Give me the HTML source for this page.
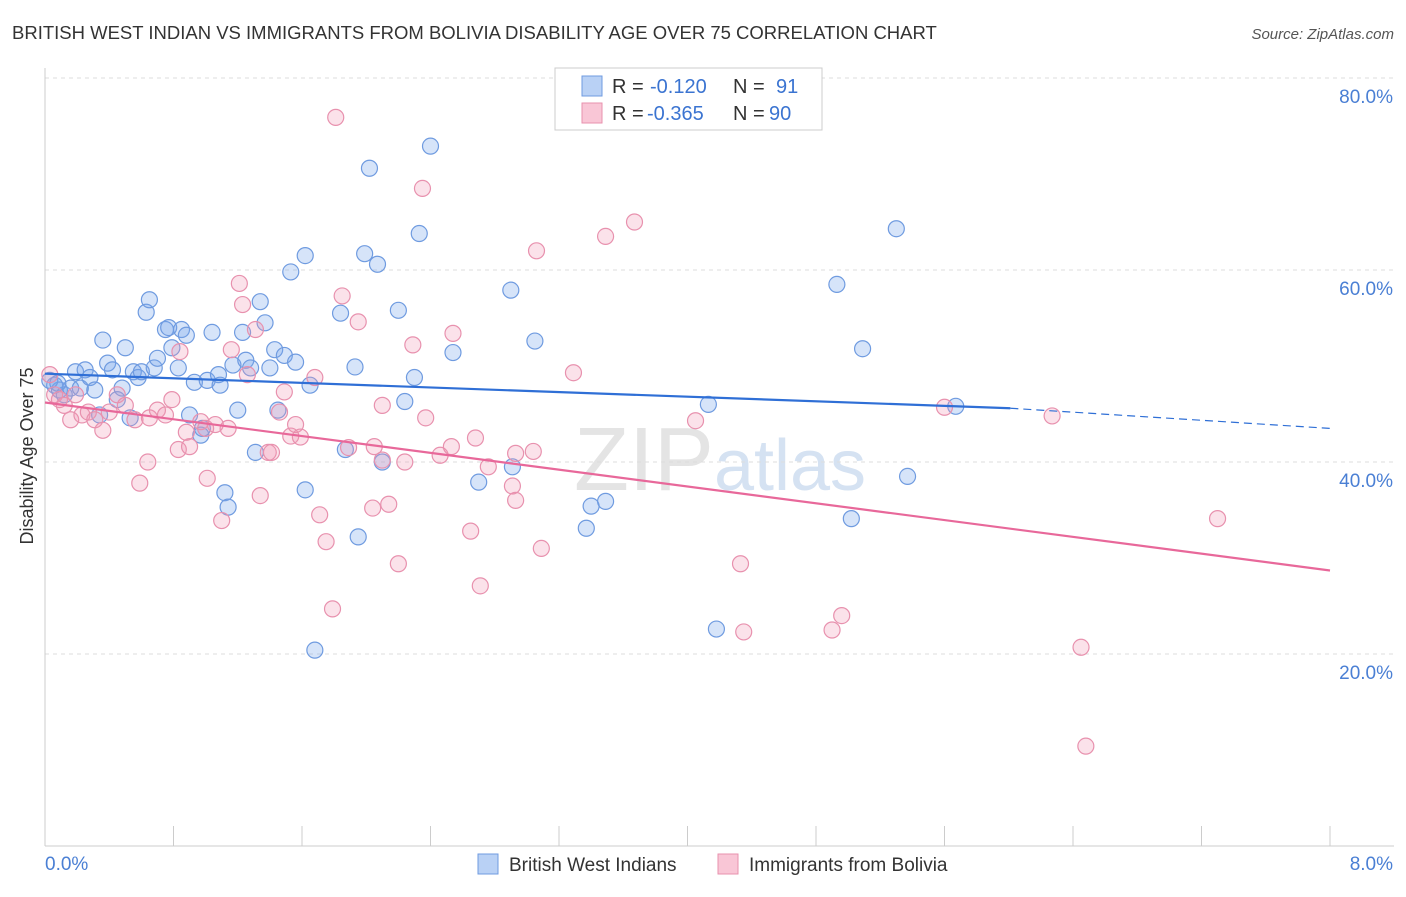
<!DOCTYPE html>
<html><head><meta charset="utf-8"><style>
body{margin:0;background:#fff;font-family:"Liberation Sans",sans-serif;}
svg text{font-family:"Liberation Sans",sans-serif;}
</style></head><body>
<svg id="chart" width="1406" height="892" xmlns="http://www.w3.org/2000/svg">
<text x="12" y="39" font-size="18.5" fill="#333">BRITISH WEST INDIAN VS IMMIGRANTS FROM BOLIVIA DISABILITY AGE OVER 75 CORRELATION CHART</text>
<text x="1394" y="39" font-size="15" fill="#555" text-anchor="end" font-style="italic">Source: ZipAtlas.com</text>
<text x="720" y="490" font-size="90" fill="#e4e4e4" text-anchor="middle" font-family="Liberation Serif">ZIP<tspan fill="#d5e2f2" font-family="Liberation Sans" font-size="72">atlas</tspan></text>
<g id="grid"></g><g id="axes"></g><g id="pts"></g><g id="trend"></g>
<text transform="translate(33,456) rotate(-90)" font-size="18" fill="#333" text-anchor="middle">Disability Age Over 75</text>
<g>
<rect x="555" y="68" width="267" height="62" fill="#fff" stroke="#ccc"/>
<rect x="582" y="76" width="20" height="20" fill="#b9d1f5" stroke="#6f9be0"/>
<rect x="582" y="103" width="20" height="20" fill="#f9c6d6" stroke="#e891ae"/>
<text x="612" y="93" font-size="20" fill="#333">R = <tspan fill="#3b74d1" x="650">-0.120</tspan><tspan x="733">N =</tspan><tspan fill="#3b74d1" x="776">91</tspan></text>
<text x="612" y="120" font-size="20" fill="#333">R = <tspan fill="#3b74d1" x="647">-0.365</tspan><tspan x="733">N =</tspan><tspan fill="#3b74d1" x="769">90</tspan></text>
</g>
<g>
<rect x="478" y="854" width="20" height="20" fill="#b9d1f5" stroke="#6f9be0"/>
<text x="509" y="871" font-size="19" fill="#333">British West Indians</text>
<rect x="718" y="854" width="20" height="20" fill="#f9c6d6" stroke="#e891ae"/>
<text x="749" y="871" font-size="19" fill="#333">Immigrants from Bolivia</text>
</g>
</svg>
<script>
const blueX=[0.06,0.09,0.12,0.16,0.19,0.22,0.25,0.28,0.31,0.34,0.36,0.39,0.42,0.45,0.48,0.50,0.53,0.55,0.58,0.60,0.63,0.65,0.68,0.70,0.75,0.77,0.79,0.83,0.85,0.88,0.90,0.93,0.97,0.98,1.01,1.04,1.08,1.09,1.12,1.14,1.17,1.20,1.23,1.25,1.28,1.31,1.34,1.37,1.40,1.43,1.45,1.49,1.53,1.56,1.62,1.62,1.65,1.68,1.84,1.87,1.93,1.95,1.99,2.02,2.07,2.10,2.20,2.24,2.30,2.33,2.40,2.54,2.70,2.90,2.91,3.05,3.37,3.40,3.49,4.13,4.18,4.93,5.02,5.09,5.30,5.37,5.67,0.03,0.08];
const blueY=[48.0,47.5,47.0,47.7,49.4,47.7,49.6,48.8,47.5,44.9,52.7,50.3,49.6,46.5,47.7,51.9,44.6,49.4,48.8,49.4,55.6,56.9,49.8,50.8,53.8,54.0,51.9,49.8,53.8,53.2,44.9,48.3,42.8,43.5,48.5,53.5,49.1,48.0,36.8,35.3,50.1,45.4,53.5,50.6,49.8,41.0,56.7,54.5,49.8,51.7,45.4,51.1,59.8,50.4,61.5,37.1,48.0,20.4,55.5,41.3,49.9,32.2,61.7,70.6,60.6,40.0,55.8,46.3,48.8,63.8,72.9,51.4,37.9,57.9,39.5,52.6,33.1,35.4,35.9,46.0,22.6,58.5,34.1,51.8,64.3,38.5,45.8,48.5,48.2];
const pinkX=[0.03,0.06,0.09,0.12,0.16,0.19,0.23,0.27,0.31,0.36,0.40,0.45,0.50,0.56,0.59,0.64,0.65,0.70,0.75,0.79,0.83,0.84,0.88,0.90,0.97,1.00,1.01,1.06,1.10,1.14,1.16,1.21,1.23,1.26,1.31,1.34,1.39,1.41,1.46,1.49,1.53,1.56,1.59,1.68,1.71,1.75,1.79,1.85,1.89,1.95,2.04,2.05,2.10,2.14,2.20,2.24,2.10,2.29,2.35,2.37,2.46,2.53,2.54,2.65,2.68,2.71,2.76,2.91,2.93,2.93,3.04,3.06,3.09,3.29,3.49,3.67,1.81,4.05,4.33,4.35,4.90,4.96,5.60,6.27,6.45,6.48,7.30];
const pinkY=[49.1,47.0,46.5,45.9,44.4,47.0,44.9,45.2,44.4,43.3,45.2,47.0,45.9,44.4,37.8,40.0,44.6,45.4,44.9,46.5,41.3,51.5,43.1,41.6,44.2,43.5,38.3,43.9,33.9,43.5,51.7,58.6,56.4,49.1,53.8,36.5,41.0,41.0,45.2,47.3,42.7,43.9,42.6,48.8,34.5,31.7,24.7,57.3,41.5,54.6,35.2,41.6,40.2,35.6,29.4,40.0,45.9,52.2,68.5,44.6,40.7,41.6,53.4,32.8,42.5,27.1,39.5,37.5,36.0,40.9,41.1,62.0,31.0,49.3,63.5,65.0,75.9,44.3,29.4,22.3,22.5,24.0,45.7,44.8,20.7,10.4,34.1];
const blueTrendX=[0,6.01,8];const blueTrendY=[49.2,45.6,43.5];
const pinkTrendX=[0,8];const pinkTrendY=[46.2,28.7];
const yTicks=[20,40,60,80];
const xTicks=[0,0.8,1.6,2.4,3.2,4.0,4.8,5.6,6.4,7.2,8.0];

const NS="http://www.w3.org/2000/svg";
const X0=45,X1=1330,YB=846;
const sx=v=>X0+v/8*(X1-X0);
const sy=v=>YB-v*9.6;
function mk(p,t,a){const e=document.createElementNS(NS,t);for(const k in a)e.setAttribute(k,a[k]);p.appendChild(e);return e;}
const grid=document.getElementById('grid'),axes=document.getElementById('axes'),pts=document.getElementById('pts'),tr=document.getElementById('trend');
yTicks.forEach(t=>{
 const l=mk(grid,'line',{x1:X0,x2:1394,y1:sy(t),y2:sy(t),stroke:'#ddd','stroke-dasharray':'4,4'});
 
 
 const tx=mk(axes,'text',{x:1393,y:sy(t)+25,'font-size':19,fill:'#4a7fd4','text-anchor':'end'});
 tx.textContent=t.toFixed(1)+'%';
 
 
});
mk(axes,'line',{x1:X0,x2:X0,y1:68,y2:YB,stroke:'#ccc'});
const xa=mk(axes,'line',{x1:X0,x2:1394,y1:YB,y2:YB,stroke:'#ccc'});


xTicks.forEach(t=>{
 const l=mk(axes,'line',{x1:sx(t),x2:sx(t),y1:YB,y2:YB-20,stroke:'#ccc'});
 
 
});
[[0,'0.0%','start',45],[8,'8.0%','end',1393]].forEach(([v,s,a,x])=>{
 const tx=mk(axes,'text',{x:x,y:870,'font-size':19,fill:'#4a7fd4','text-anchor':a});
 tx.textContent=s;
 
 
});
function dots(xs,ys,fill,stroke,name){xs.forEach((x,i)=>{
 const c=mk(pts,'circle',{cx:sx(x),cy:sy(ys[i]),r:8,fill:fill,stroke:stroke,'stroke-width':1.2});
 
 
});}
dots(blueX,blueY,'rgba(120,165,235,0.3)','#6f9be0','british-west-indian-point');
dots(pinkX,pinkY,'rgba(242,150,180,0.28)','#e891ae','bolivia-immigrant-point');
const b1=mk(tr,'line',{x1:sx(blueTrendX[0]),y1:sy(blueTrendY[0]),x2:sx(blueTrendX[1]),y2:sy(blueTrendY[1]),stroke:'#2f6fd6','stroke-width':2.2});


const b2=mk(tr,'line',{x1:sx(blueTrendX[1]),y1:sy(blueTrendY[1]),x2:sx(blueTrendX[2]),y2:sy(blueTrendY[2]),stroke:'#2f6fd6','stroke-width':1.2,'stroke-dasharray':'8,5'});


const p1=mk(tr,'line',{x1:sx(pinkTrendX[0]),y1:sy(pinkTrendY[0]),x2:sx(pinkTrendX[1]),y2:sy(pinkTrendY[1]),stroke:'#e8689a','stroke-width':2.2});


</script>
</body></html>
